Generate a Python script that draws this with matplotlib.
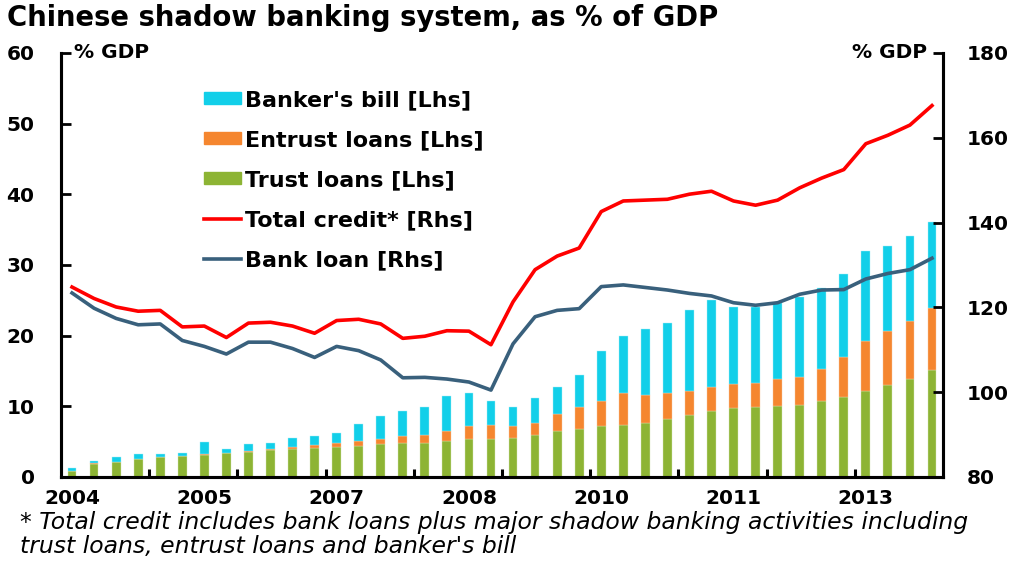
import numpy as np
import matplotlib
matplotlib.use("Agg")
import matplotlib.pyplot as plt
from matplotlib.patches import Patch
from matplotlib.lines import Line2D

# the reference text is wide, DejaVu matches its widths better than Arial
plt.rcParams['font.family'] = ['DejaVu Sans']

# quarterly, 2004Q1 .. 2013Q4
n_q = 40
trust = [0.9, 1.9, 2.1, 2.55, 2.85, 2.95, 3.15, 3.35, 3.6, 3.85,
         4.0, 4.15, 4.3, 4.4, 4.6, 4.8, 4.85, 5.1, 5.4, 5.4,
         5.5, 5.95, 6.5, 6.85, 7.2, 7.35, 7.6, 8.2, 8.75, 9.3,
         9.7, 9.9, 10.05, 10.2, 10.7, 11.35, 12.1, 12.95, 13.85, 15.2]
entrust = [0.0, 0.05, 0.05, 0.05, 0.05, 0.05, 0.05, 0.05, 0.1, 0.15,
           0.3, 0.4, 0.5, 0.7, 0.8, 0.95, 1.05, 1.4, 1.75, 1.95,
           1.65, 1.75, 2.35, 3.05, 3.5, 4.55, 4.0, 3.7, 3.45, 3.45,
           3.4, 3.45, 3.75, 4.0, 4.65, 5.65, 7.1, 7.7, 8.2, 8.65]
bankers_bill = [0.4, 0.35, 0.65, 0.6, 0.3, 0.35, 1.7, 0.5, 0.9, 0.8,
                1.15, 1.25, 1.4, 2.45, 3.3, 3.65, 4.0, 5.0, 4.8, 3.35,
                2.8, 3.5, 3.9, 4.5, 7.15, 8.1, 9.3, 9.9, 11.45, 12.35,
                11.0, 10.7, 10.8, 11.3, 11.45, 11.7, 12.75, 12.1, 12.05, 12.25]
total_credit = [124.8, 122.1, 120.1, 119.1, 119.3, 115.4, 115.6, 112.9, 116.3, 116.5,
                115.6, 113.9, 116.9, 117.2, 116.1, 112.7, 113.2, 114.5, 114.4, 111.2,
                121.3, 128.9, 132.1, 134.0, 142.6, 145.1, 145.3, 145.5, 146.7, 147.4,
                145.1, 144.1, 145.3, 148.2, 150.5, 152.5, 158.6, 160.6, 163.0, 167.6]
bank_loan = [123.4, 119.8, 117.4, 115.9, 116.1, 112.2, 110.8, 109.0, 111.8, 111.8,
             110.3, 108.2, 110.8, 109.8, 107.6, 103.4, 103.5, 103.1, 102.4, 100.5,
             111.4, 117.8, 119.3, 119.7, 124.9, 125.3, 124.7, 124.1, 123.3, 122.7,
             121.1, 120.5, 121.1, 123.1, 124.1, 124.2, 126.7, 128.0, 128.9, 131.6]
year_label_pos = [0, 6, 12, 18, 24, 30, 36]
year_labels = ['2004', '2005', '2007', '2008', '2010', '2011', '2013']

c_green = '#8db434'
c_orange = '#f5862f'
c_cyan = '#12cfe9'
c_red = '#ff0000'
c_blue = '#39607c'

x = np.arange(n_q)
trust = np.array(trust)
entrust = np.array(entrust)
bankers_bill = np.array(bankers_bill)

fig = plt.figure(figsize=(10.15, 5.61), dpi=100)
ax = fig.add_axes([61/1015, 1-477/561, (943-61)/1015, (477-53)/561])
ax2 = ax.twinx()

w = 0.4
ax.bar(x, trust, w, color=c_green, edgecolor='#d8e6b8', linewidth=0.3)
ax.bar(x, entrust, w, bottom=trust, color=c_orange, edgecolor='#f8c9a0', linewidth=0.3)
ax.bar(x, bankers_bill, w, bottom=trust+entrust, color=c_cyan, edgecolor='#a8ecf6', linewidth=0.3)

ax2.plot(x, total_credit, color=c_red, lw=2.6)
ax2.plot(x, bank_loan, color=c_blue, lw=2.6)

ax.set_xlim(-0.5, n_q-0.5)
ax.set_ylim(0, 60)
ax2.set_ylim(80, 180)
ax.set_yticks(range(0, 61, 10))
ax2.set_yticks(range(80, 181, 20))

ax.set_xticks(year_label_pos)
ax.set_xticklabels(year_labels)
ax.set_xticks(np.arange(3.5, n_q-1, 4), minor=True)
ax.tick_params(axis='x', which='major', length=0, pad=9)
ax.tick_params(axis='x', which='minor', direction='in', length=6, width=2.2)

for a in (ax, ax2):
    a.spines['top'].set_visible(False)
    for s in ('left', 'right', 'bottom'):
        a.spines[s].set_linewidth(2.2)
    for lab in a.get_xticklabels() + a.get_yticklabels():
        lab.set_fontsize(14.5)
        lab.set_fontweight('bold')

ax.tick_params(axis='y', direction='in', length=7, width=2, pad=19)
ax2.tick_params(axis='y', direction='in', length=7, width=2, pad=17)

fig.text(74/1015, 1-52/561, '% GDP', fontsize=14.5, fontweight='bold', va='center', ha='left')
fig.text(927/1015, 1-52/561, '% GDP', fontsize=14.5, fontweight='bold', va='center', ha='right')

handles = [Patch(color=c_cyan), Patch(color=c_orange), Patch(color=c_green),
           Line2D([], [], color=c_red, lw=2.6), Line2D([], [], color=c_blue, lw=2.6)]
labels = ["Banker's bill [Lhs]", "Entrust loans [Lhs]", "Trust loans [Lhs]",
          "Total credit* [Rhs]", "Bank loan [Rhs]"]
leg = ax2.legend(handles, labels, loc='upper left', bbox_to_anchor=(204/1015, 1-90/561),
                 bbox_transform=fig.transFigure, frameon=False,
                 prop={'size': 16, 'weight': 'bold'}, handlelength=1.65, handleheight=0.42,
                 handletextpad=0.2, labelspacing=0.9, borderpad=0, borderaxespad=0)

fig.text(7/1015, 1-18/561, 'Chinese shadow banking system, as % of GDP',
         fontsize=19.8, fontweight='bold', va='center', ha='left')
fig.text(20/1015, 1-523/561,
         '* Total credit includes bank loans plus major shadow banking activities including',
         fontsize=16.9, style='italic', va='center', ha='left')
fig.text(20/1015, 1-547/561, "trust loans, entrust loans and banker's bill",
         fontsize=16.9, style='italic', va='center', ha='left')

fig.savefig('out.png', dpi=100)
